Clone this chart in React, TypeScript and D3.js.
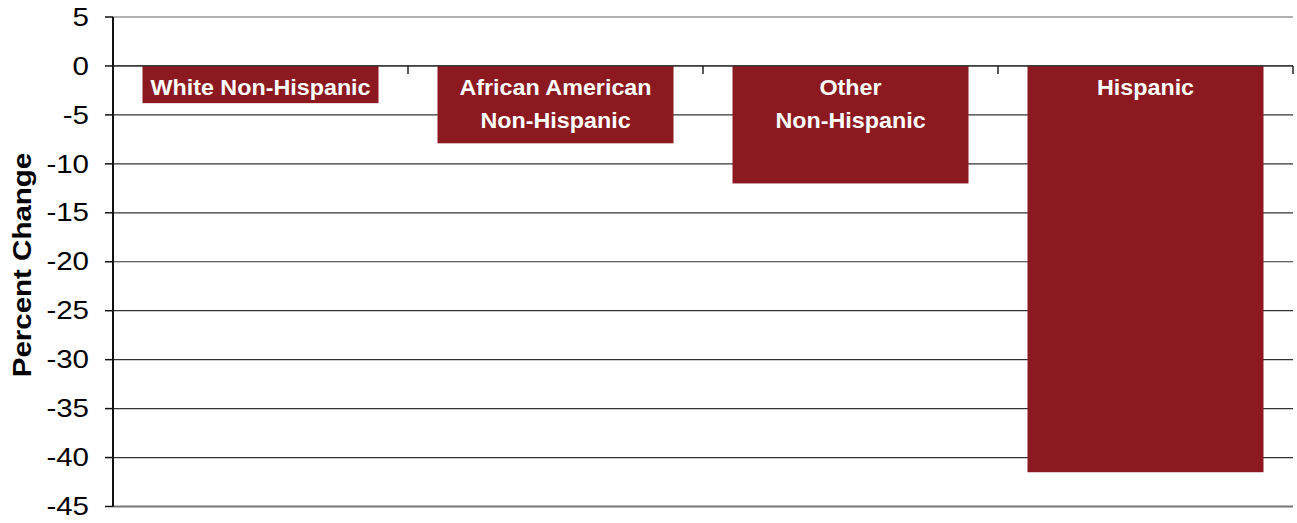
import React from "react";
import * as d3 from "d3";

const categories: string[][] = [
  ["White Non-Hispanic"],
  ["African American", "Non-Hispanic"],
  ["Other", "Non-Hispanic"],
  ["Hispanic"],
];
const values: number[] = [-3.8, -7.9, -12.0, -41.5];
const yTicks: number[] = [5, 0, -5, -10, -15, -20, -25, -30, -35, -40, -45];
const yTitle = "Percent Change";

const W = 1297;
const H = 523;
const M = { left: 113, right: 1293, top: 17, bottom: 506.5 };
const BAR = "#8B191F";
const FONT = "Arial, 'Liberation Sans', Helvetica, sans-serif";

export default function App() {
  const keys = categories.map((_, i) => String(i));
  const x = d3.scaleBand<string>().domain(keys).range([M.left, M.right]).paddingInner(0.2).paddingOuter(0.1);
  const y = d3.scaleLinear().domain([5, -45]).range([M.top, M.bottom]);
  const step = (M.right - M.left) / categories.length;
  const y0 = y(0);

  return (
    <svg width={W} height={H} style={{ position: "absolute", left: 0, top: 0, background: "#fff" }}>
      {yTicks.map((t, i) => {
        const first = i === 0;
        const last = i === yTicks.length - 1;
        return (
          <line
            key={"g" + t}
            x1={M.left}
            x2={M.right}
            y1={y(t)}
            y2={y(t)}
            stroke={first ? "#999" : last ? "#777" : "#333"}
            strokeWidth={last ? 2 : first ? 1.5 : 1.2}
          />
        );
      })}
      {values.map((v, i) => (
        <rect
          key={"b" + i}
          x={x(String(i))!}
          y={y0}
          width={x.bandwidth()}
          height={y(v) - y0}
          fill={BAR}
        />
      ))}
      <line x1={M.left} x2={M.right} y1={y0} y2={y0} stroke="#333" strokeWidth={1.2} />
      {d3.range(categories.length + 1).map((i) => (
        <line
          key={"ct" + i}
          x1={M.left + i * step}
          x2={M.left + i * step}
          y1={y0}
          y2={y0 + 8}
          stroke="#222"
          strokeWidth={1.5}
        />
      ))}
      <line x1={M.left} x2={M.left} y1={M.top} y2={M.bottom} stroke="#111" strokeWidth={2} />
      {yTicks.map((t) => (
        <g key={"t" + t}>
          <line x1={M.left - 8} x2={M.left} y1={y(t)} y2={y(t)} stroke="#111" strokeWidth={1.5} />
          <text
            transform={`translate(${M.left - 24}, ${y(t)}) scale(1.18, 1)`}
            textAnchor="end"
            dominantBaseline="central"
            fontFamily={FONT}
            fontSize={25}
            fill="#000"
          >
            {t}
          </text>
        </g>
      ))}
      {categories.map((lines, i) => {
        const cx = x(String(i))! + x.bandwidth() / 2;
        return (
          <g key={"l" + i} transform={`translate(${cx}, ${y0 + 29}) scale(1.06, 1)`}>
            {lines.map((ln, j) => (
              <text
                key={j}
                x={0}
                y={j * 33.5}
                textAnchor="middle"
                fontFamily={FONT}
                fontSize={22}
                fontWeight="bold"
                fill="#fff"
              >
                {ln}
              </text>
            ))}
          </g>
        );
      })}
      <text
        transform={`translate(31, ${265}) rotate(-90) scale(1.18, 1)`}
        textAnchor="middle"
        fontFamily={FONT}
        fontSize={25}
        fontWeight="bold"
        fill="#000"
      >
        {yTitle}
      </text>
    </svg>
  );
}
